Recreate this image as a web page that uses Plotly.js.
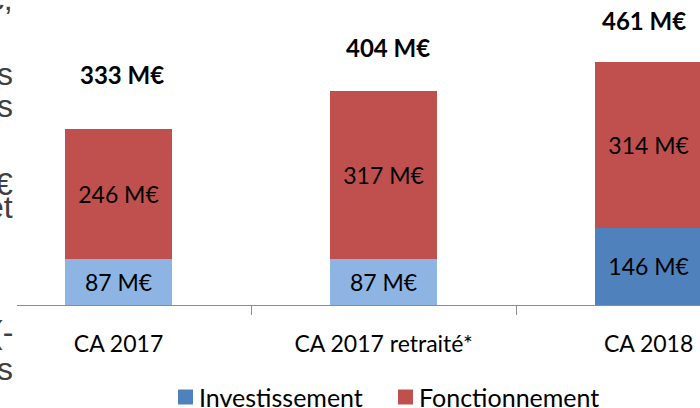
<!DOCTYPE html>
<html><head><meta charset="utf-8">
<script src="https://cdn.plot.ly/plotly-3.0.1.min.js"></script>
<style>html,body{margin:0;padding:0;background:#fff;overflow:hidden}#chart{width:700px;height:408px}</style>
</head><body><div id="chart"></div>
<script>
// ---- data ----
const categories = ['CA 2017', 'CA 2017 retraité*', 'CA 2018'];
const investissement = [87, 87, 146];
const fonctionnement = [246, 317, 314];
const totals = [333, 404, 461];
const seriesNames = ['Investissement', 'Fonctionnement'];
const sideFragments = ['€,', 's', 's', '€', 'et', '(-', 's'];

// ---- styles ----
const investColors = ['#8DB4E2', '#8DB4E2', '#4F81BD'];
const fonctColor = '#C0504D';
const legendColors = ['#4F81BD', '#C0504D'];
const FONT = 'Lato, "Noto Sans", sans-serif';

const W = 700, H = 408, ML = 17, MB = 103, MT = 0, MR = 0;
const plotH = H - MT - MB, plotW = W - ML - MR;
const py = p => (H - MB - p) / plotH;   // pixel y -> paper y
const px = p => (p - ML) / plotW;       // pixel x -> paper x
const fragmentCentersPx = [-1, 74, 106, 184, 207, 332, 369];
const totalLabelYShift = [38, 27, 24];   // px gap above each bar
const totalLabelXShift = [3, 4, -5];
const legendItemX = [178, 398];          // left edge of each legend square (px)
const legendY = 397;                     // legend row centre (px)

const traces = [
  {
    type: 'bar', name: seriesNames[0], x: categories, y: investissement,
    marker: {color: investColors, line: {width: 0}},
    texttemplate: '%{y} M€', textposition: 'inside', insidetextanchor: 'middle',
    textangle: 0, textfont: {family: FONT, size: 23, color: '#000'},
    hoverinfo: 'skip', showlegend: false
  },
  {
    type: 'bar', name: seriesNames[1], x: categories, y: fonctionnement,
    marker: {color: fonctColor, line: {width: 0}},
    texttemplate: '%{y} M€', textposition: 'inside', insidetextanchor: 'middle',
    textangle: 0, textfont: {family: FONT, size: 23, color: '#000'},
    hoverinfo: 'skip', showlegend: false
  }
];

const annotations = totals.map((t, i) => ({
  x: categories[i], y: t, xref: 'x', yref: 'y',
  text: t + ' M€', showarrow: false, yanchor: 'bottom',
  yshift: totalLabelYShift[i], xshift: totalLabelXShift[i],
  font: {family: FONT, size: 24, color: '#000', weight: 'bold'}
}));
sideFragments.forEach((s, i) => annotations.push({
  x: px(15), y: py(fragmentCentersPx[i]), xref: 'paper', yref: 'paper',
  xanchor: 'right', yanchor: 'middle', text: s, showarrow: false,
  font: {family: '"Liberation Sans", Arial, sans-serif', size: 32, color: '#404040'}
}));

// legend (series names with their colour keys)
const shapes = [];
seriesNames.forEach((n, i) => {
  shapes.push({
    type: 'rect', xref: 'paper', yref: 'paper',
    x0: px(legendItemX[i]), x1: px(legendItemX[i] + 15),
    y0: py(legendY + 7.5), y1: py(legendY - 7.5),
    fillcolor: legendColors[i], line: {width: 0}
  });
  annotations.push({
    x: px(legendItemX[i] + 19), y: py(legendY), xref: 'paper', yref: 'paper',
    xanchor: 'left', yanchor: 'middle', text: n, showarrow: false,
    font: {family: FONT, size: 25, color: '#000'}
  });
});

const layout = {
  width: W, height: H,
  margin: {l: ML, r: MR, t: MT, b: MB, pad: 0, autoexpand: false},
  paper_bgcolor: '#fff', plot_bgcolor: '#fff',
  barmode: 'stack', bargap: 0.596,
  showlegend: false,
  xaxis: {
    type: 'category', range: [-0.383, 2.194], fixedrange: true,
    showline: true, linecolor: '#8C8C8C', linewidth: 1,
    ticks: 'outside', tickson: 'boundaries', ticklen: 9, tickcolor: '#8C8C8C', tickwidth: 1,
    ticklabelstandoff: 18,
    tickfont: {family: FONT, size: 23, color: '#000'},
    showgrid: false, zeroline: false
  },
  yaxis: {
    range: [0, 576.5], visible: false, showgrid: false, zeroline: false, fixedrange: true
  },
  annotations: annotations,
  shapes: shapes,
  font: {family: FONT}
};

Plotly.newPlot('chart', traces, layout, {displayModeBar: false, staticPlot: true});
</script>
</body></html>
